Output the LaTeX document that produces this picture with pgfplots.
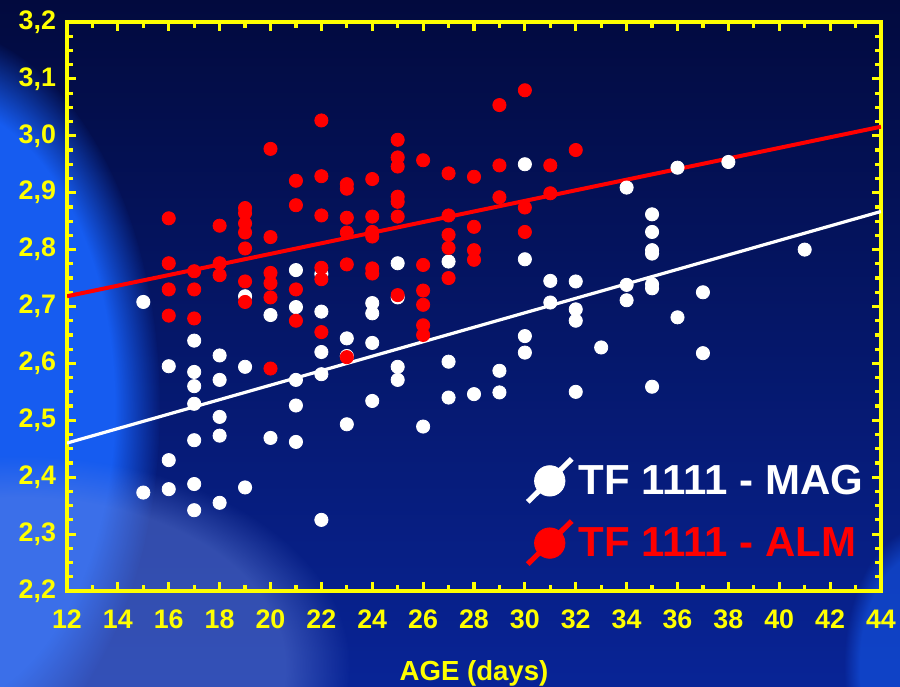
\documentclass[border=0pt]{standalone}
\usepackage{pgfplots}
\pgfplotsset{compat=1.18}
\usepackage{fontspec}
\setmainfont{Liberation Sans}
\usetikzlibrary{fadings}

\definecolor{bgtop}{RGB}{2,10,62}
\definecolor{bgbot}{RGB}{8,36,150}
\definecolor{glow}{RGB}{22,92,240}
\definecolor{haze}{RGB}{105,135,225}
\definecolor{axyellow}{RGB}{255,255,0}
\definecolor{dotred}{RGB}{255,0,0}

% TF 1111 - MAG (age in days, value)
\pgfplotstableread{
x y
15 2.708
15 2.373
16 2.595
16 2.430
16 2.379
17 2.640
17 2.585
17 2.560
17 2.529
17 2.465
17 2.388
17 2.342
18 2.614
18 2.571
18 2.506
18 2.473
18 2.355
19 2.718
19 2.594
19 2.382
20 2.685
20 2.469
21 2.764
21 2.699
21 2.571
21 2.526
21 2.462
22 2.757
22 2.691
22 2.620
22 2.581
22 2.325
23 2.644
23 2.613
23 2.493
24 2.706
24 2.688
24 2.636
24 2.534
25 2.776
25 2.716
25 2.594
25 2.571
26 2.489
27 2.779
27 2.603
27 2.540
28 2.546
29 2.587
29 2.549
30 2.950
30 2.783
30 2.648
30 2.619
31 2.745
31 2.707
32 2.744
32 2.695
32 2.675
32 2.550
33 2.628
34 2.909
34 2.738
34 2.711
35 2.862
35 2.831
35 2.799
35 2.793
35 2.739
35 2.732
35 2.559
36 2.944
36 2.681
37 2.725
37 2.618
38 2.954
41 2.800
}\magdata

% TF 1111 - ALM (age in days, value)
\pgfplotstableread{
x y
16 2.855
16 2.776
16 2.730
16 2.684
17 2.762
17 2.730
17 2.679
18 2.842
18 2.776
18 2.755
19 2.873
19 2.864
19 2.846
19 2.830
19 2.802
19 2.744
19 2.708
20 2.977
20 2.822
20 2.759
20 2.741
20 2.716
20 2.591
21 2.921
21 2.878
21 2.730
21 2.675
22 3.027
22 2.929
22 2.860
22 2.768
22 2.748
22 2.655
23 2.915
23 2.907
23 2.856
23 2.830
23 2.774
23 2.611
24 2.924
24 2.858
24 2.831
24 2.823
24 2.767
24 2.758
25 2.993
25 2.962
25 2.946
25 2.893
25 2.884
25 2.858
25 2.720
26 2.957
26 2.773
26 2.728
26 2.703
26 2.667
26 2.650
27 2.934
27 2.860
27 2.826
27 2.803
27 2.750
28 2.928
28 2.840
28 2.799
28 2.782
29 3.054
29 2.948
29 2.892
30 3.080
30 2.874
30 2.831
31 2.948
31 2.899
32 2.975
}\almdata

\begin{document}
\begin{tikzpicture}
% backdrop
\useasboundingbox (0,0) rectangle (450pt,343pt);
\shade[top color=bgtop, bottom color=bgbot] (0,0) rectangle (450pt,343pt);
\begin{scope}
\clip (0,0) rectangle (450pt,343pt);
\fill[glow, path fading=circle with fuzzy edge 20 percent] (-35pt,140pt) ellipse (115pt and 190pt);
\fill[haze, fill opacity=0.45, path fading=circle with fuzzy edge 20 percent] (10pt,10pt) ellipse (165pt and 105pt);
\fill[glow, fill opacity=0.55, path fading=circle with fuzzy edge 20 percent] (462pt,10pt) ellipse (40pt and 70pt);
\end{scope}

\begin{axis}[
  at={(33.5pt,47.5pt)}, anchor=south west,
  scale only axis, width=407pt, height=284.5pt,
  xmin=12, xmax=44, ymin=2.2, ymax=3.2,
  xtick={12,14,...,44},
  ytick={2.2,2.3,2.4,2.5,2.6,2.7,2.8,2.9,3.0,3.1,3.2},
  minor x tick num=1, minor y tick num=3,
  tick align=inside,
  axis line style={axyellow, line width=2pt},
  every tick/.style={axyellow, line width=1.6pt},
  major tick length=4.5pt, minor tick length=2.8pt,
  /pgf/number format/assume math mode=true,
  ticklabel style={text=axyellow, font=\fontsize{13.4}{15}\selectfont\bfseries},
  xticklabel style={yshift=-6pt},
  yticklabel style={xshift=-2pt, /pgf/number format/fixed,
    /pgf/number format/fixed zerofill, /pgf/number format/precision=1,
    /pgf/number format/use comma},
  xlabel={AGE (days)},
  xlabel style={text=axyellow, font=\fontsize{13.8}{15}\selectfont\bfseries, yshift=-9pt},
  legend style={at={(0.555,0.035)}, anchor=south west, draw=none, fill=none,
    font=\fontsize{21}{22}\selectfont\bfseries, row sep=7pt},
  legend cell align=left,
]
\addplot[only marks, mark=*, white, mark size=3.3pt,
  legend image code/.code={
    \draw[white, line width=2.6pt] (-11pt,-10.5pt) -- (11pt,11pt);
    \fill[white] (0,0) circle (7.6pt);}]
  table[x=x, y=y] {\magdata};
\addlegendentry{\textcolor{white}{TF 1111 - MAG}}
\addplot[only marks, mark=*, dotred, mark size=3.3pt,
  legend image code/.code={
    \draw[dotred, line width=2.6pt] (-11pt,-10.5pt) -- (11pt,11pt);
    \fill[dotred] (0,0) circle (7.6pt);}]
  table[x=x, y=y] {\almdata};
\addlegendentry{\textcolor{dotred}{TF 1111 - ALM}}
% fitted lines
\addplot[white, line width=1.6pt, forget plot] coordinates {(12,2.460) (44,2.867)};
\addplot[dotred, line width=2pt, forget plot] coordinates {(12,2.718) (44,3.016)};
\end{axis}
\end{tikzpicture}
\end{document}
